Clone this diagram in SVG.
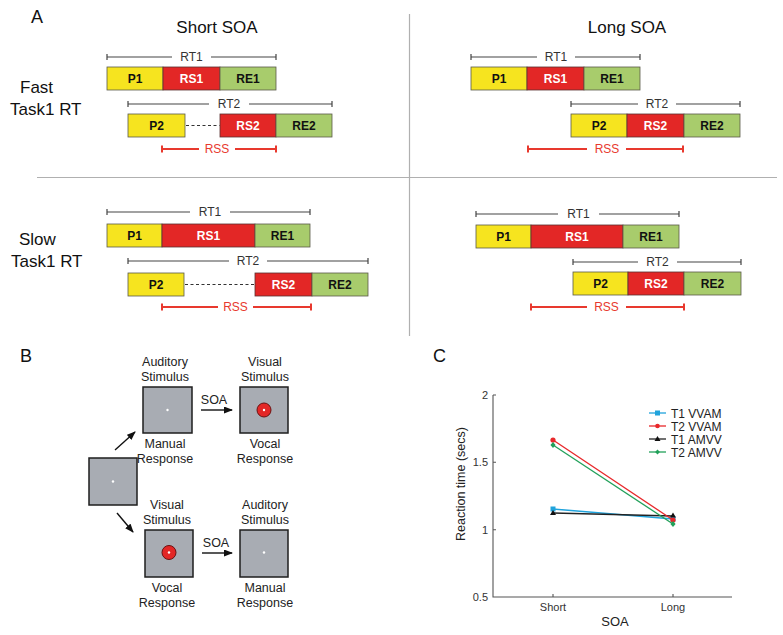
<svg xmlns="http://www.w3.org/2000/svg" width="783" height="635" viewBox="0 0 783 635">
<defs>
<style>
text{font-family:"Liberation Sans",Arial,sans-serif}
.y{fill:#f6e41f;stroke:#5a5a4a;stroke-width:0.8}
.r{fill:#e32726;stroke:#5a3030;stroke-width:0.8}
.g{fill:#a8cc6c;stroke:#5a5a4a;stroke-width:0.8}
.bl{font-size:12px;font-weight:bold;text-anchor:middle;fill:#111}
.bw{font-size:12px;font-weight:bold;text-anchor:middle;fill:#fff}
.br{fill:none;stroke:#444;stroke-width:1.2}
.rss{fill:none;stroke:#e8392e;stroke-width:2}
.rt{font-size:12px;text-anchor:middle;fill:#333}
.rsst{font-size:12px;text-anchor:middle;fill:#e8392e}
.dash{stroke:#333;stroke-width:1.2;stroke-dasharray:3,2.5}
.big{font-size:17px;fill:#111}
.pl{font-size:18px;fill:#111}
.scr{fill:#a8acb3;stroke:#1e1e1e;stroke-width:1.5}
.dot{fill:#fff}
.stim{fill:#e32726;stroke:#6a1212;stroke-width:1}
.bt{font-size:12.5px;text-anchor:middle;fill:#222}
.arr{stroke:#111;stroke-width:1.4;fill:none;marker-end:url(#ah)}
.div{stroke:#b0b0b0;stroke-width:1.2}
.ax{stroke:#555;stroke-width:1.1;fill:none}
.tk{font-size:11px;fill:#333}
.lg{font-size:12px;fill:#222}
</style>
<marker id="ah" markerUnits="userSpaceOnUse" markerWidth="9" markerHeight="7" refX="8" refY="3.5" orient="auto">
<path d="M0,0 L9,3.5 L0,7 z" fill="#111"/>
</marker>
</defs>
<rect width="783" height="635" fill="#fff"/>

<!-- Panel A labels -->
<g id="panelA-labels">
<text class="pl" x="31" y="23">A</text>
<text class="big" x="217" y="33" text-anchor="middle">Short SOA</text>
<text class="big" x="627" y="33" text-anchor="middle">Long SOA</text>
<text class="big" x="20" y="93">Fast</text>
<text class="big" x="10" y="115">Task1 RT</text>
<text class="big" x="19" y="245">Slow</text>
<text class="big" x="11" y="267">Task1 RT</text>
<line class="div" x1="409.5" y1="14" x2="409.5" y2="336"/>
<line class="div" x1="37" y1="177.5" x2="777" y2="177.5"/>
</g>

<!-- Top-left: fast, short SOA -->
<g id="fs-rt1"><path class="br" d="M107,54 v6 M107,57 H172 M211,57 H276 M276,54 v6"/><text class="rt" x="191.5" y="61">RT1</text></g>
<g id="fs-p1"><rect class="y" x="107" y="67" width="56" height="23"/><text class="bl" x="135" y="83">P1</text></g>
<g id="fs-rs1"><rect class="r" x="163" y="67" width="57" height="23"/><text class="bw" x="191.5" y="83">RS1</text></g>
<g id="fs-re1"><rect class="g" x="220" y="67" width="56" height="23"/><text class="bl" x="248" y="83">RE1</text></g>
<g id="fs-rt2"><path class="br" d="M128,101 v6 M128,104 H209 M249,104 H332 M332,101 v6"/><text class="rt" x="229" y="108">RT2</text></g>
<g id="fs-p2"><rect class="y" x="128" y="114" width="57" height="23"/><text class="bl" x="156.5" y="130">P2</text></g>
<g id="fs-rs2"><rect class="r" x="220" y="114" width="56" height="23"/><text class="bw" x="248" y="130">RS2</text></g>
<g id="fs-re2"><rect class="g" x="276" y="114" width="56" height="23"/><text class="bl" x="304" y="130">RE2</text></g>
<g id="fs-rss"><path class="rss" d="M162,145.5 v7 M162,149 H199 M235,149 H276 M276,145.5 v7"/><text class="rsst" x="217" y="153">RSS</text></g>

<!-- Top-right: fast, long SOA -->
<g id="fl-rt1"><path class="br" d="M471,54 v6 M471,57 H537 M575,57 H640 M640,54 v6"/><text class="rt" x="556" y="61">RT1</text></g>
<g id="fl-p1"><rect class="y" x="471" y="67" width="56" height="23"/><text class="bl" x="499" y="83">P1</text></g>
<g id="fl-rs1"><rect class="r" x="527" y="67" width="57" height="23"/><text class="bw" x="555.5" y="83">RS1</text></g>
<g id="fl-re1"><rect class="g" x="584" y="67" width="56" height="23"/><text class="bl" x="612" y="83">RE1</text></g>
<g id="fl-rt2"><path class="br" d="M571,101 v6 M571,104 H638 M676,104 H740 M740,101 v6"/><text class="rt" x="657" y="108">RT2</text></g>
<g id="fl-p2"><rect class="y" x="571" y="114" width="56" height="23"/><text class="bl" x="599" y="130">P2</text></g>
<g id="fl-rs2"><rect class="r" x="627" y="114" width="57" height="23"/><text class="bw" x="655.5" y="130">RS2</text></g>
<g id="fl-re2"><rect class="g" x="684" y="114" width="56" height="23"/><text class="bl" x="712" y="130">RE2</text></g>
<g id="fl-rss"><path class="rss" d="M528,145.5 v7 M528,149 H587 M626,149 H683 M683,145.5 v7"/><text class="rsst" x="607" y="153">RSS</text></g>

<!-- Bottom-left: slow, short SOA -->
<g id="ss-rt1"><path class="br" d="M107,209 v6 M107,212 H190 M230,212 H310 M310,209 v6"/><text class="rt" x="210" y="216">RT1</text></g>
<g id="ss-p1"><rect class="y" x="107" y="224" width="55" height="23"/><text class="bl" x="134.5" y="240">P1</text></g>
<g id="ss-rs1"><rect class="r" x="162" y="224" width="93" height="23"/><text class="bw" x="208.5" y="240">RS1</text></g>
<g id="ss-re1"><rect class="g" x="255" y="224" width="55" height="23"/><text class="bl" x="282.5" y="240">RE1</text></g>
<g id="ss-rt2"><path class="br" d="M128,258 v6 M128,261 H229 M267,261 H368 M368,258 v6"/><text class="rt" x="248" y="265">RT2</text></g>
<g id="ss-p2"><rect class="y" x="128" y="273" width="56" height="23"/><text class="bl" x="156" y="289">P2</text></g>
<g id="ss-rs2"><rect class="r" x="255" y="273" width="57" height="23"/><text class="bw" x="283.5" y="289">RS2</text></g>
<g id="ss-re2"><rect class="g" x="312" y="273" width="56" height="23"/><text class="bl" x="340" y="289">RE2</text></g>
<g id="ss-rss"><path class="rss" d="M162,303.5 v7 M162,307 H218 M253,307 H311 M311,303.5 v7"/><text class="rsst" x="235.5" y="311">RSS</text></g>

<!-- Bottom-right: slow, long SOA -->
<g id="sl-rt1"><path class="br" d="M476,211 v6 M476,214 H558 M599,214 H679 M679,211 v6"/><text class="rt" x="578.5" y="218">RT1</text></g>
<g id="sl-p1"><rect class="y" x="476" y="225" width="55" height="23"/><text class="bl" x="503.5" y="241">P1</text></g>
<g id="sl-rs1"><rect class="r" x="531" y="225" width="92" height="23"/><text class="bw" x="577" y="241">RS1</text></g>
<g id="sl-re1"><rect class="g" x="623" y="225" width="56" height="23"/><text class="bl" x="651" y="241">RE1</text></g>
<g id="sl-rt2"><path class="br" d="M573,259 v6 M573,262 H638 M677,262 H741 M741,259 v6"/><text class="rt" x="657.5" y="266">RT2</text></g>
<g id="sl-p2"><rect class="y" x="573" y="272" width="55" height="23"/><text class="bl" x="600.5" y="288">P2</text></g>
<g id="sl-rs2"><rect class="r" x="628" y="272" width="56" height="23"/><text class="bw" x="656" y="288">RS2</text></g>
<g id="sl-re2"><rect class="g" x="684" y="272" width="57" height="23"/><text class="bl" x="712.5" y="288">RE2</text></g>
<g id="sl-rss"><path class="rss" d="M531,303.5 v7 M531,307 H587 M626,307 H684 M684,303.5 v7"/><text class="rsst" x="606.5" y="311">RSS</text></g>

<g id="waits">
<line class="dash" x1="186" y1="125.5" x2="219.5" y2="125.5"/>
<line class="dash" x1="185" y1="284.5" x2="254.5" y2="284.5"/>
</g>

<!-- Panel B -->
<text class="pl" x="20" y="362">B</text>
<g id="b-fix"><rect class="scr" x="89" y="458" width="48" height="47"/><circle class="dot" cx="113" cy="481.5" r="1.2"/></g>
<g id="b-tl"><text class="bt" x="165" y="366">Auditory</text><text class="bt" x="165" y="381">Stimulus</text>
<rect class="scr" x="143" y="387" width="49" height="46"/><circle class="dot" cx="167.5" cy="410" r="1.2"/>
<text class="bt" x="165" y="448">Manual</text><text class="bt" x="165" y="463">Response</text></g>
<g id="b-tr"><text class="bt" x="265" y="366">Visual</text><text class="bt" x="265" y="381">Stimulus</text>
<rect class="scr" x="240" y="387" width="48" height="46"/><circle class="stim" cx="264" cy="410" r="7"/><circle class="dot" cx="264" cy="410" r="1.2"/>
<text class="bt" x="265" y="448">Vocal</text><text class="bt" x="265" y="463">Response</text></g>
<g id="b-bl"><text class="bt" x="167" y="509">Visual</text><text class="bt" x="167" y="524">Stimulus</text>
<rect class="scr" x="145" y="530" width="48" height="47"/><circle class="stim" cx="169" cy="552.5" r="7"/><circle class="dot" cx="169" cy="552.5" r="1.2"/>
<text class="bt" x="167" y="592">Vocal</text><text class="bt" x="167" y="607">Response</text></g>
<g id="b-br"><text class="bt" x="265" y="509">Auditory</text><text class="bt" x="265" y="524">Stimulus</text>
<rect class="scr" x="240" y="530" width="48" height="47"/><circle class="dot" cx="264" cy="552.5" r="1.2"/>
<text class="bt" x="265" y="592">Manual</text><text class="bt" x="265" y="607">Response</text></g>
<g id="connectors">
<line class="arr" x1="115" y1="450" x2="135" y2="432"/>
<line class="arr" x1="117" y1="513" x2="133" y2="532"/>
<line class="arr" x1="201" y1="410" x2="232" y2="410"/>
<line class="arr" x1="202" y1="553" x2="232" y2="553"/>
<text class="bt" x="214" y="404">SOA</text>
<text class="bt" x="216" y="547">SOA</text>
</g>

<!-- Panel C -->
<text class="pl" x="433" y="362">C</text>
<g id="chart">
<path class="ax" d="M493,395 V597 H732"/>
<path class="ax" d="M493,395 h3 M493,462.3 h3 M493,529.7 h3 M553,597 v-3 M673,597 v-3"/>
<text class="tk" x="488" y="399" text-anchor="end">2</text>
<text class="tk" x="488" y="466" text-anchor="end">1.5</text>
<text class="tk" x="488" y="533.5" text-anchor="end">1</text>
<text class="tk" x="488" y="601" text-anchor="end">0.5</text>
<text class="tk" x="553" y="611" text-anchor="middle">Short</text>
<text class="tk" x="673" y="611" text-anchor="middle">Long</text>
<text x="615" y="626" text-anchor="middle" font-size="13" fill="#222">SOA</text>
<text transform="translate(465,484) rotate(-90)" text-anchor="middle" font-size="12.5" fill="#222">Reaction time (secs)</text>
<g id="s-t1vvam"><line x1="553" y1="509" x2="673" y2="519" stroke="#20a3dc" stroke-width="1.3"/><rect x="550.5" y="506.5" width="5" height="5" fill="#20a3dc"/><rect x="670.5" y="516.5" width="5" height="5" fill="#20a3dc"/></g>
<g id="s-t1amvv"><line x1="553" y1="513" x2="673" y2="516" stroke="#222" stroke-width="1.3"/><path d="M553,510 l3,5 h-6 z M673,512.5 l3,5 h-6 z" fill="#111"/></g>
<g id="s-t2vvam"><line x1="553" y1="440" x2="673" y2="520" stroke="#e8282b" stroke-width="1.3"/><circle cx="553" cy="440" r="2.6" fill="#e8282b"/><circle cx="673" cy="520" r="2.6" fill="#e8282b"/></g>
<g id="s-t2amvv"><line x1="553" y1="445" x2="673" y2="524" stroke="#22a15a" stroke-width="1.3"/><path d="M553,442 l2.6,3 l-2.6,3 l-2.6,-3 z M673,521 l2.6,3 l-2.6,3 l-2.6,-3 z" fill="#22a15a"/></g>
<g id="legend">
<line x1="649" y1="413" x2="666" y2="413" stroke="#20a3dc" stroke-width="1.3"/><rect x="655" y="410.5" width="5" height="5" fill="#20a3dc"/><text class="lg" x="671" y="417.5">T1 VVAM</text>
<line x1="649" y1="426" x2="666" y2="426" stroke="#e8282b" stroke-width="1.3"/><circle cx="657.5" cy="426" r="2.3" fill="#e8282b"/><text class="lg" x="671" y="430.5">T2 VVAM</text>
<line x1="649" y1="439" x2="666" y2="439" stroke="#222" stroke-width="1.3"/><path d="M657.5,436 l3,5 h-6 z" fill="#111"/><text class="lg" x="671" y="443.5">T1 AMVV</text>
<line x1="649" y1="452" x2="666" y2="452" stroke="#22a15a" stroke-width="1.3"/><path d="M657.5,449.5 l2.4,2.5 l-2.4,2.5 l-2.4,-2.5 z" fill="#22a15a"/><text class="lg" x="671" y="456.5">T2 AMVV</text>
</g>
</g>
</svg>
